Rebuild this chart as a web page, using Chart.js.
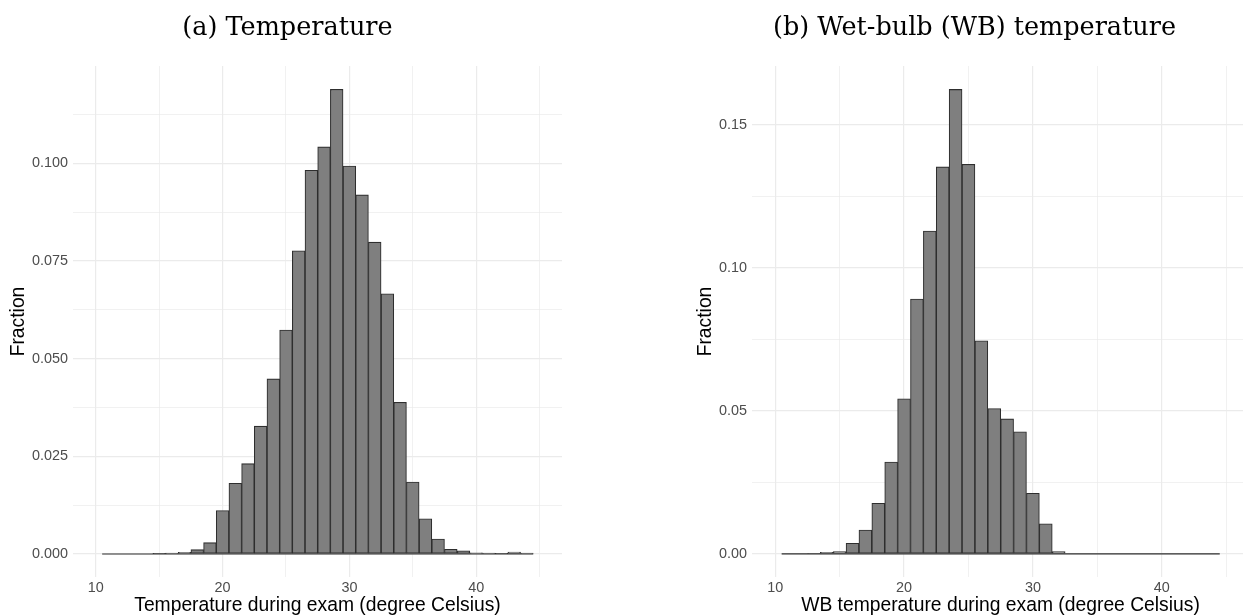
<!DOCTYPE html>
<html>
<head>
<meta charset="utf-8">
<script src="https://cdn.jsdelivr.net/npm/chart.js@4.4.1/dist/chart.umd.min.js"></script>
<style>
html, body { margin: 0; padding: 0; background: #fff; overflow: hidden; }
#wrap { position: relative; width: 1243px; height: 616px; overflow: hidden; }
canvas { position: absolute; top: 0; }
</style>
</head>
<body>
<div id="wrap">
  <canvas id="tempChart" width="575" height="620" style="left:0px"></canvas>
  <canvas id="wbChart" width="575" height="620" style="left:687px"></canvas>
</div>
<script>
// Histogram bins (1 degree wide, centred on whole degrees)
const binCenters = [11, 12, 13, 14, 15, 16, 17, 18, 19, 20, 21, 22, 23, 24, 25, 26, 27,
                    28, 29, 30, 31, 32, 33, 34, 35, 36, 37, 38, 39, 40, 41, 42, 43, 44];
const binWidth = 1;

// (a) Temperature - fraction of exams per bin
const tempFraction = [0, 0, 0, 0, 0.0001, 0.0002, 0.0004, 0.0011, 0.0029, 0.0111, 0.0181, 0.0231,
                      0.0327, 0.0448, 0.0573, 0.0776, 0.0982, 0.1042, 0.1189, 0.0993, 0.0919, 0.0798,
                      0.0666, 0.0388, 0.0184, 0.0090, 0.0038, 0.0012, 0.0008, 0.0003, 0.0002, 0.0001,
                      0.0005, 0.0002];

// (b) Wet-bulb temperature - fraction of exams per bin
const wbFraction = [0, 0, 0.0002, 0.0005, 0.0008, 0.0037, 0.0083, 0.0177, 0.0321, 0.0542, 0.0891, 0.1129,
                    0.1353, 0.1624, 0.1362, 0.0745, 0.0508, 0.0472, 0.0427, 0.0212, 0.0105, 0.0008,
                    0, 0, 0, 0, 0, 0, 0, 0, 0, 0, 0, 0];

// Tick values
const xMajorTicks = [10, 20, 30, 40];
const xMinorTicks = [15, 25, 35, 45];
const tempMajorTicks = [0, 0.025, 0.05, 0.075, 0.1];
const tempMinorTicks = [0.0125, 0.0375, 0.0625, 0.0875, 0.1125];
const wbMajorTicks = [0, 0.05, 0.1, 0.15];
const wbMinorTicks = [0.025, 0.075, 0.125];

const tickFont = { family: 'Liberation Sans, Arial, sans-serif', size: 14.4 };
const titleFont = { family: 'Liberation Sans, Arial, sans-serif', size: 19.3 };

function tickList(major, minor) {
    return major.concat(minor).sort((a, b) => a - b).map(v => ({ value: v }));
}

function makeHistogram(canvasId, cfg) {
    const ctx = document.getElementById(canvasId).getContext('2d');
    const first = binCenters[0] - binWidth / 2;
    const last = binCenters[binCenters.length - 1] + binWidth / 2;

    return new Chart(ctx, {
        data: {
            datasets: [{
                type: 'bar',
                data: binCenters.map((x, i) => ({ x: x, y: cfg.values[i] })),
                backgroundColor: '#7f7f7f',
                borderColor: '#2e2e2e',
                borderWidth: 1.1,
                borderSkipped: false,
                barPercentage: 1,
                categoryPercentage: 1,
                order: 1
            }, {
                // empty bins still show their outline along zero
                type: 'line',
                data: [{ x: first, y: 0 }, { x: last, y: 0 }],
                borderColor: '#2e2e2e',
                borderWidth: 1.1,
                pointRadius: 0,
                order: 0
            }]
        },
        options: {
            responsive: false,
            animation: false,
            layout: { padding: 0 },
            plugins: {
                legend: { display: false },
                tooltip: { enabled: false },
                title: {
                    display: true,
                    text: cfg.title,
                    color: '#000',
                    font: { family: 'DejaVu Serif, serif', size: 25.5, weight: 'normal' },
                    padding: { top: 12.7, bottom: 22.7 }
                }
            },
            scales: {
                x: {
                    type: 'linear',
                    min: 8.2,
                    max: 46.77,
                    offset: false,
                    afterBuildTicks: s => { s.ticks = tickList(xMajorTicks, xMinorTicks); },
                    afterFit: s => { s.height = 43; },
                    grid: {
                        offset: false,
                        drawTicks: false,
                        color: '#ebebeb',
                        lineWidth: c => (c.tick && xMajorTicks.includes(c.tick.value)) ? 1.2 : 0.7
                    },
                    border: { display: false },
                    ticks: {
                        padding: 2,
                        color: '#4d4d4d',
                        font: tickFont,
                        maxRotation: 0,
                        autoSkip: false,
                        callback: v => xMajorTicks.includes(v) ? String(v) : ''
                    },
                    title: {
                        display: true,
                        text: cfg.xLabel,
                        color: '#000',
                        font: titleFont,
                        padding: { top: 0, bottom: 2.6 }
                    }
                },
                y: {
                    type: 'linear',
                    min: cfg.yMin,
                    max: cfg.yMax,
                    afterBuildTicks: s => { s.ticks = tickList(cfg.yMajor, cfg.yMinor); },
                    afterFit: s => { s.width = cfg.yAxisWidth; },
                    grid: {
                        drawTicks: false,
                        color: '#ebebeb',
                        lineWidth: c => (c.tick && cfg.yMajor.includes(c.tick.value)) ? 1.2 : 0.7
                    },
                    border: { display: false },
                    ticks: {
                        padding: 5,
                        color: '#4d4d4d',
                        font: tickFont,
                        autoSkip: false,
                        callback: v => cfg.yMajor.includes(v) ? v.toFixed(cfg.decimals) : ''
                    },
                    title: {
                        display: true,
                        text: 'Fraction',
                        color: '#000',
                        font: titleFont,
                        padding: { top: 7, bottom: 0 }
                    }
                },
                // blank strip on the right so the caption centres over the whole figure
                pad: {
                    type: 'linear',
                    position: 'right',
                    grid: { display: false },
                    border: { display: false },
                    ticks: { display: false },
                    afterFit: s => { s.width = 13; }
                }
            }
        }
    });
}

makeHistogram('tempChart', {
    title: '(a) Temperature',
    xLabel: 'Temperature during exam (degree Celsius)',
    values: tempFraction,
    yMin: -0.0059,
    yMax: 0.1249,
    yMajor: tempMajorTicks,
    yMinor: tempMinorTicks,
    decimals: 3,
    yAxisWidth: 73
});

makeHistogram('wbChart', {
    title: '(b) Wet-bulb (WB) temperature',
    xLabel: 'WB temperature during exam (degree Celsius)',
    values: wbFraction,
    yMin: -0.0081,
    yMax: 0.1706,
    yMajor: wbMajorTicks,
    yMinor: wbMinorTicks,
    decimals: 2,
    yAxisWidth: 65
});
</script>
</body>
</html>
